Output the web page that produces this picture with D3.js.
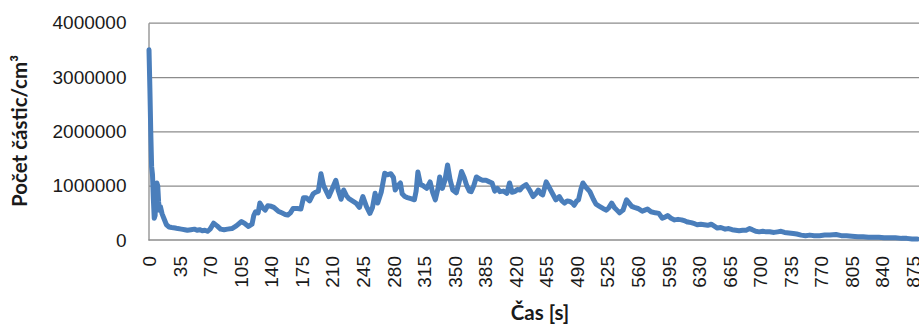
<!DOCTYPE html>
<html>
<head>
<meta charset="utf-8">
<script src="https://cdn.jsdelivr.net/npm/d3@7"></script>
<style>
  body { margin: 0; background: #fff; }
  svg { display: block; font-family: Lato, 'Open Sans', sans-serif; }
  .grid line { stroke: #8c8c8c; stroke-width: 1.3; }
  .grid path { display: none; }
  .axis path, .axis line { stroke: #8c8c8c; stroke-width: 1.3; }
  .axis text { fill: #1a1a1a; font-size: 19px; }
  .title { font-weight: bold; font-size: 20.5px; fill: #1a1a1a; }
  .dataline { fill: none; stroke: #4a7ebb; stroke-width: 5; stroke-linejoin: round; stroke-linecap: round; }
</style>
</head>
<body>
<div id="container"></div>
<script>
// time [s]
const times = [
  0, 1, 2, 3, 4, 5, 6, 7, 8, 9, 10, 11, 12, 13, 15, 17, 20, 23, 26, 30,
  33, 37, 41, 44, 48, 52, 55, 58, 61, 64, 67, 70, 74, 78, 82, 86, 90, 95, 100, 106,
  110, 114, 118, 120, 122, 125, 127, 130, 133, 136, 140, 143, 148, 152, 156, 159, 162, 165, 170, 174,
  177, 180, 184, 188, 191, 194, 197, 200, 203, 206, 210, 214, 217, 220, 223, 226, 229, 233, 237, 241,
  245, 249, 253, 256, 259, 262, 266, 270, 273, 277, 280, 282, 285, 288, 290, 293, 296, 300, 304, 306,
  308, 311, 314, 318, 322, 325, 328, 331, 333, 336, 339, 342, 345, 348, 352, 355, 358, 361, 364, 367,
  369, 372, 375, 379, 382, 386, 390, 393, 396, 399, 402, 406, 410, 413, 416, 419, 422, 425, 428, 432,
  436, 440, 443, 446, 449, 451, 455, 458, 462, 466, 470, 473, 476, 479, 482, 485, 487, 490, 492, 495,
  497, 500, 505, 509, 512, 516, 520, 524, 527, 530, 533, 536, 539, 543, 547, 550, 553, 556, 560, 565,
  568, 571, 575, 580, 584, 588, 591, 594, 598, 602, 606, 610, 614, 617, 621, 625, 628, 632, 636, 640,
  644, 648, 651, 655, 660, 664, 668, 672, 676, 680, 684, 688, 691, 695, 699, 703, 707, 711, 716, 720,
  724, 728, 733, 738, 742, 747, 752, 757, 762, 768, 774, 780, 787, 793, 799, 805, 812, 818, 824, 830,
  836, 842, 848, 855, 862, 868, 874, 880
];

// particle count [1/cm3]
const counts = [
  3500000, 2800000, 2000000, 1350000, 1200000, 750000, 400000, 450000, 950000, 1050000, 1000000, 700000, 550000, 620000, 480000, 400000, 280000, 240000, 230000, 220000,
  210000, 200000, 190000, 180000, 190000, 200000, 180000, 190000, 170000, 180000, 160000, 200000, 310000, 260000, 200000, 190000, 200000, 210000, 260000, 340000,
  300000, 250000, 290000, 450000, 520000, 500000, 680000, 600000, 550000, 630000, 620000, 600000, 530000, 500000, 470000, 460000, 500000, 580000, 580000, 570000,
  780000, 780000, 720000, 850000, 880000, 900000, 1220000, 1000000, 900000, 800000, 950000, 1100000, 900000, 750000, 920000, 820000, 760000, 720000, 680000, 600000,
  800000, 620000, 490000, 600000, 860000, 680000, 880000, 1230000, 1200000, 1220000, 1150000, 920000, 1000000, 1050000, 850000, 800000, 780000, 760000, 740000, 900000,
  1250000, 1020000, 1000000, 950000, 1070000, 870000, 740000, 950000, 1160000, 950000, 1100000, 1380000, 1100000, 920000, 870000, 1050000, 1260000, 1150000, 1000000, 900000,
  890000, 1000000, 1160000, 1120000, 1100000, 1100000, 1070000, 1050000, 900000, 950000, 890000, 900000, 860000, 1050000, 880000, 890000, 930000, 920000, 980000, 1020000,
  920000, 800000, 850000, 920000, 850000, 830000, 1070000, 980000, 860000, 740000, 800000, 720000, 680000, 720000, 710000, 680000, 640000, 720000, 740000, 950000,
  1050000, 980000, 890000, 750000, 660000, 620000, 580000, 550000, 600000, 680000, 600000, 550000, 500000, 550000, 740000, 680000, 620000, 600000, 580000, 530000,
  550000, 570000, 520000, 500000, 490000, 400000, 420000, 450000, 400000, 370000, 380000, 370000, 350000, 330000, 320000, 300000, 280000, 290000, 280000, 270000,
  290000, 250000, 220000, 230000, 200000, 210000, 190000, 180000, 170000, 180000, 180000, 210000, 190000, 160000, 150000, 160000, 150000, 150000, 140000, 150000,
  160000, 140000, 130000, 120000, 110000, 90000, 80000, 90000, 80000, 80000, 90000, 90000, 100000, 80000, 80000, 70000, 60000, 60000, 50000, 50000,
  50000, 40000, 40000, 40000, 30000, 30000, 20000, 20000
];

const xTicks = [0, 35, 70, 105, 140, 175, 210, 245, 280, 315, 350, 385, 420, 455, 490, 525, 560, 595, 630, 665, 700, 735, 770, 805, 840, 875];
const yTicks = [0, 1000000, 2000000, 3000000, 4000000];

const width = 919;
const height = 327;
const plotLeft = 149;
const plotTop = 22.7;
const plotBottom = 240;

const data = times.map((t, i) => ({ x: t, y: counts[i] }));

const svg = d3.select('#container')
              .append('svg')
              .attr('width', width)
              .attr('height', height);

const x = d3.scaleLinear()
            .domain([0, 880])
            .range([plotLeft, plotLeft + 880 * 0.873]);
const y = d3.scaleLinear()
            .domain([0, 4000000])
            .range([plotBottom, plotTop]);

// Y grid
svg.append('g')
   .attr('class', 'grid')
   .attr('transform', `translate(${plotLeft}, 0)`)
   .call(d3.axisRight(y)
           .tickValues(yTicks.slice(1))
           .tickSize(width - plotLeft)
           .tickFormat(() => ''));

// Y axis
svg.append('g')
   .attr('class', 'axis')
   .attr('transform', `translate(${plotLeft - 0.5}, 0)`)
   .call(d3.axisLeft(y)
           .tickValues(yTicks)
           .tickSize(0)
           .tickPadding(22)
           .tickFormat(d3.format('d')));

// X axis
const xAxis = svg.append('g')
   .attr('class', 'axis')
   .attr('transform', `translate(0, ${plotBottom})`)
   .call(d3.axisBottom(x)
           .tickValues(xTicks)
           .tickSize(0)
           .tickFormat(d3.format('d')));
xAxis.select('.domain').attr('d', `M${plotLeft - 0.5},0H${width}`);
xAxis.selectAll('text')
     .attr('transform', 'rotate(-90)')
     .attr('x', -16)
     .attr('y', 0)
     .attr('dy', '0.35em')
     .style('text-anchor', 'end');

// the line
const valueline = d3.line()
                    .x((d) => x(d.x))
                    .y((d) => y(d.y));
svg.append('path')
   .attr('class', 'dataline')
   .attr('d', valueline(data));

// titles
svg.append('text')
   .attr('class', 'title')
   .attr('x', 540)
   .attr('y', 320)
   .attr('text-anchor', 'middle')
   .text('Čas [s]');

svg.append('text')
   .attr('class', 'title')
   .attr('transform', 'translate(27, 131) rotate(-90)')
   .attr('text-anchor', 'middle')
   .text('Počet částic/cm³');
</script>
</body>
</html>
